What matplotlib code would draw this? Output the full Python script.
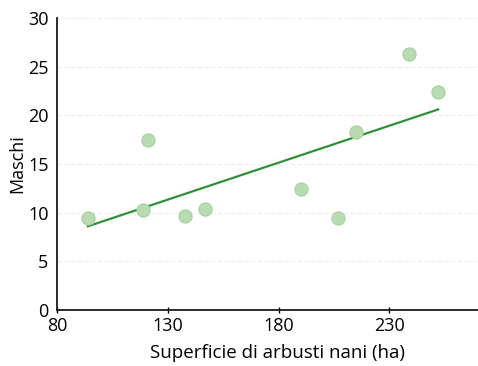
import matplotlib.pyplot as plt

# data
superficie = [94, 121, 119, 138, 147, 190, 207, 215, 239, 252]
maschi = [9.4, 17.5, 10.3, 9.7, 10.4, 12.4, 9.4, 18.3, 26.3, 22.4]
trend_x = [94, 252]
trend_y = [8.6, 20.6]
xticks = [80, 130, 180, 230]
yticks = [0, 5, 10, 15, 20, 25, 30]

plt.rcParams['font.family'] = ['Open Sans', 'DejaVu Sans']

fig = plt.figure(figsize=(4.78, 3.66), dpi=100)
ax = fig.add_axes([0.119, 0.153, 0.881, 0.798])

for y in yticks[1:]:
    ax.axhline(y, color='#ececec', lw=0.8, ls=(0, (4, 2)), zorder=0)

ax.plot(trend_x, trend_y, color='#2f8f3a', lw=1.6, zorder=2)
ax.scatter(superficie, maschi, s=90, color='#b8dbb2', edgecolor='#a6d09f',
           linewidth=0.8, zorder=3)

ax.set_xlim(80, 270)
ax.set_ylim(0, 30)
ax.set_xticks(xticks)
ax.set_yticks(yticks)
ax.tick_params(axis='y', length=0, pad=6, labelsize=13)
ax.tick_params(axis='x', length=4, width=1, direction='inout', pad=3, labelsize=13)

for s in ['top', 'right']:
    ax.spines[s].set_visible(False)
for s in ['left', 'bottom']:
    ax.spines[s].set_linewidth(1.3)
    ax.spines[s].set_color('#1a1a1a')

ax.set_xlabel('Superficie di arbusti nani (ha)', fontsize=13.5)
ax.set_ylabel('Maschi', fontsize=13)
ax.xaxis.set_label_coords(0.525, -0.115)
ax.yaxis.set_label_coords(-0.073, 0.5)

fig.savefig('out.png', dpi=100)
